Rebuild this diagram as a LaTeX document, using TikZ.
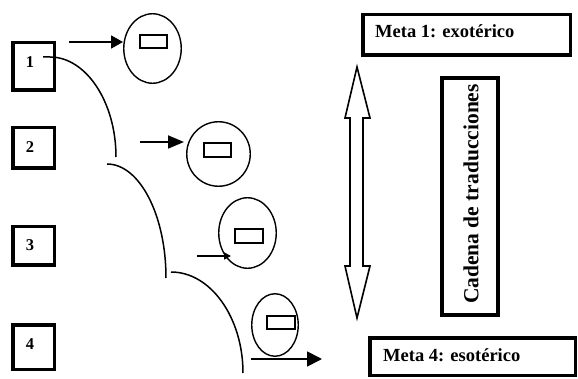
\documentclass[tikz,border=0pt]{standalone}
\usepackage{fontspec}
\setmainfont{Liberation Serif}
\usetikzlibrary{arrows.meta,shapes.geometric}
\begin{document}
\begin{tikzpicture}[x=1pt,y=-1pt,
  numbox/.style={draw,line width=3.5pt,minimum width=41.5pt,inner sep=0pt},
  numtxt/.style={font=\fontsize{16.5}{16.5}\selectfont\bfseries,inner sep=0pt},
  bubble/.style={draw,ellipse,line width=1.4pt,inner sep=0pt},
  chip/.style={draw,line width=1.6pt,minimum width=27.5pt,minimum height=13.5pt,inner sep=0pt},
  curveline/.style={line width=1.5pt},
  pointer/.style={line width=1.8pt,-{Triangle[length=12pt,width=13pt]}},
  goalbox/.style={draw,line width=3.5pt,inner sep=0pt},
  goaltxt/.style={font=\fontsize{18.5}{19}\selectfont\bfseries,inner sep=0pt,anchor=base west}]
\useasboundingbox (0,0) rectangle (578,379);

% left numbered boxes
\node[numbox,minimum height=47.5pt] (b1) at (33.5,66.5) {};
\node[numbox,minimum height=40.5pt] (b2) at (33.5,148) {};
\node[numbox,minimum height=38.5pt] (b3) at (33.5,246) {};
\node[numbox,minimum height=44.5pt] (b4) at (33.5,347) {};
\node[numtxt] (n1) at (30,62) {1};
\node[numtxt] (n2) at (30,147) {2};
\node[numtxt] (n3) at (30,245) {3};
\node[numtxt] (n4) at (30,344) {4};

% curves
\coordinate (c1s) at (43,57);
\coordinate (c1e) at (116,157);
\draw[curveline] (c1s) -- (50,57) .. controls (86,57) and (116,102) .. (c1e);
\coordinate (c2s) at (107,164);
\coordinate (c2e) at (166,278);
\draw[curveline] (c2s) .. controls (139.5,164) and (166,215) .. (c2e);
\coordinate (c3s) at (171,272);
\coordinate (c3e) at (243,373);
\draw[curveline] (c3s) .. controls (211,272) and (243,318) .. (c3e);

% arrows
\coordinate (a1s) at (69,42);
\coordinate (a1e) at (123,42);
\coordinate (a2s) at (140,142);
\coordinate (a2e) at (184,142);
\coordinate (a3s) at (197,256);
\coordinate (a3e) at (231,256);
\coordinate (a4s) at (251,359);
\coordinate (a4e) at (322,359);
\draw[pointer] (a1s) -- (a1e);
\draw[line width=1.8pt,-{Triangle[length=16pt,width=13pt]}] (a2s) -- (a2e);
\draw[line width=1.6pt,-{Triangle[length=7pt,width=7pt]}] (a3s) -- (a3e);
\draw[line width=1.8pt,-{Triangle[length=15pt,width=15pt]}] (a4s) -- (a4e);

% ellipses with chips
\node[bubble,minimum width=57.5pt,minimum height=69.5pt] (e1) at (152.5,48.5) {};
\node[bubble,minimum width=63.5pt,minimum height=64.5pt] (e2) at (218.5,154) {};
\node[bubble,minimum width=57.5pt,minimum height=70.5pt] (e3) at (247.5,233) {};
\node[bubble,minimum width=46.5pt,minimum height=62.5pt] (e4) at (275,325) {};
\node[chip] (r1) at (153.5,41.5) {};
\node[chip] (r2) at (217.5,150) {};
\node[chip,minimum width=28.5pt] (r3) at (249,236) {};
\node[chip,minimum width=28.5pt] (r4) at (281,322.5) {};

% goal boxes
\node[goalbox,minimum width=207.5pt,minimum height=40.5pt] (m1) at (466.5,35) {};
\node[goaltxt] (m1t) at (375,38) {Meta 1: exotérico};
\node[goalbox,minimum width=205.5pt,minimum height=37.5pt] (m4) at (472.5,356.5) {};
\node[goaltxt] (m4t) at (383,361) {Meta 4: esotérico};

% double arrow
\draw[line width=1.6pt,line join=miter]
  (357,67) -- (370,118) -- (363,118) -- (363,266) -- (370,266) -- (357,318)
  -- (345,266) -- (350,266) -- (350,118) -- (345,118) -- cycle;

% chain box
\node[goalbox,minimum width=56pt,minimum height=237pt] (cb) at (470,196.5) {};
\node[rotate=90,font=\fontsize{21.5}{22}\selectfont\bfseries,inner sep=0pt] (cbt) at (471,194) {Cadena de traducciones};
\end{tikzpicture}
\end{document}
